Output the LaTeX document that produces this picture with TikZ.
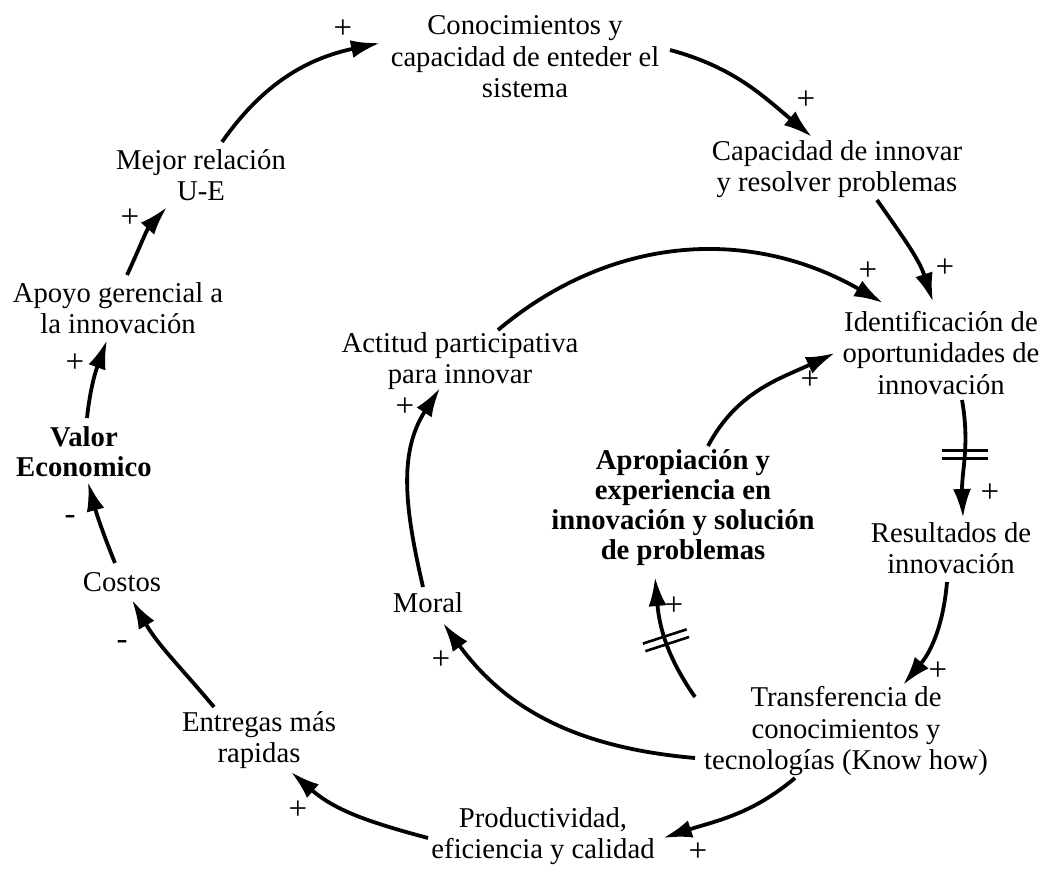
\documentclass[tikz,border=0pt]{standalone}
\usepackage{fontspec}
\setmainfont{Liberation Serif}
\usetikzlibrary{arrows.meta,calc}
\begin{document}
\begin{tikzpicture}[x=1pt,y=1pt,
  var/.style={align=center,inner sep=0pt,font=\fontsize{28.7}{31.5}\selectfont},
  keyvar/.style={align=center,inner sep=0pt,font=\fontsize{28.7}{30}\selectfont\bfseries},
  link/.style={line width=3.8pt,-{Latex[length=29pt,width=18pt]}},
  sign/.style={inner sep=0pt,font=\fontsize{33}{33}\selectfont},
  delaybar/.style={line width=2.6pt}]
\useasboundingbox (0,0) rectangle (1054,-869);

% variables
\node[var] (con) at (525,-57) {Conocimientos y\\capacidad de enteder el\\sistema};
\node[var] (cap) at (837,-169) {Capacidad de innovar\\y resolver problemas};
\node[var] (ide) at (941,-353) {Identificación de\\oportunidades de\\innovación};
\node[var] (res) at (951,-548) {Resultados de\\innovación};
\node[var] (tra) at (846,-731) {Transferencia de\\conocimientos y\\tecnologías (Know how)};
\node[var] (pro) at (543,-836) {Productividad,\\eficiencia y calidad};
\node[var] (ent) at (259,-740) {Entregas más\\rapidas};
\node[var] (cos) at (122,-582) {Costos};
\node[keyvar] (val) at (84,-452) {Valor\\Economico};
\node[var] (apo) at (118,-308) {Apoyo gerencial a\\la innovación};
\node[var] (mej) at (201,-175) {Mejor relación\\U-E};
\node[var] (act) at (460,-361) {Actitud participativa\\para innovar};
\node[var] (mor) at (428,-603) {Moral};
\node[keyvar] (apr) at (683,-508) {Apropiación y\\experiencia en\\innovación y solución\\de problemas};

% causal links
\draw[link] ([shift={(21,33)}]mej.center) to[out=55,in=192] ([shift={(-145,14)}]con.center);
\draw[link] ([shift={(145,7)}]con.center) to[out=-15,in=140] ([shift={(-25,32)}]cap.center);
\draw[link] ([shift={(40,-31)}]cap.center) to[out=-55,in=108] ([shift={(-8,51)}]ide.center);
\draw[link] ([shift={(38,31)}]act.center) to[out=40,in=150] ([shift={(-58,50)}]ide.center);
\draw[link] ([shift={(25,62)}]apr.center) to[out=62,in=205] ([shift={(-106,0)}]ide.center);
\draw[link] ([shift={(21,-47)}]ide.center) to[out=-80,in=92] coordinate[pos=0.46] (d1) ([shift={(12,30)}]res.center);
\draw[link] ([shift={(-4,-34)}]res.center) to[out=-95,in=50] ([shift={(57,46)}]tra.center);
\draw[link] ([shift={(-51,-47)}]tra.center) to[out=-140,in=18] ([shift={(120,-2)}]pro.center);
\draw[link] ([shift={(-115,-2)}]pro.center) to[out=165,in=-41] ([shift={(32,-32)}]ent.center);
\draw[link] ([shift={(-45,33)}]ent.center) to[out=130,in=-60] ([shift={(10,-18)}]cos.center);
\draw[link] ([shift={(-7,19)}]cos.center) to[out=112,in=-75] ([shift={(4,-30)}]val.center);
\draw[link] ([shift={(3,34)}]val.center) to[out=84,in=-110] ([shift={(-11,-32)}]apo.center);
\draw[link] ([shift={(9,33)}]apo.center) to[out=65,in=-132] ([shift={(-34,-32)}]mej.center);
\draw[link] ([shift={(-151,-27)}]tra.center) to[out=175,in=-54] ([shift={(15,-20)}]mor.center);
\draw[link] ([shift={(-151,34)}]tra.center) to[out=125,in=-85] coordinate[pos=0.5] (d2) ([shift={(-28,-69)}]apr.center);
\draw[link] ([shift={(-5,16)}]mor.center) to[out=103,in=-123] ([shift={(-20,-27)}]act.center);

% delay marks
\draw[delaybar] ($(d1)+(-23,4)$) -- ($(d1)+(23,4)$)
                ($(d1)+(-23,-4)$) -- ($(d1)+(23,-4)$);
\draw[delaybar] ($(d2)+(18:-23)+(108:4)$) -- ($(d2)+(18:23)+(108:4)$)
                ($(d2)+(18:-23)+(108:-4)$) -- ($(d2)+(18:23)+(108:-4)$);

% polarities
\node[sign] (s1) at (343,-29) {+};
\node[sign] (s2) at (806,-100) {+};
\node[sign] (s3) at (945,-268) {+};
\node[sign] (s4) at (868,-271) {+};
\node[sign] (s5) at (810,-380) {+};
\node[sign] (s6) at (990,-493) {+};
\node[sign] (s7) at (938,-671) {+};
\node[sign] (s8) at (698,-852) {+};
\node[sign] (s9) at (298,-810) {+};
\node[sign] (s10) at (122,-645) {-};
\node[sign] (s11) at (70,-520) {-};
\node[sign] (s12) at (75,-363) {+};
\node[sign] (s13) at (130,-218) {+};
\node[sign] (s14) at (441,-660) {+};
\node[sign] (s15) at (674,-606) {+};
\node[sign] (s16) at (405,-407) {+};
\end{tikzpicture}
\end{document}
